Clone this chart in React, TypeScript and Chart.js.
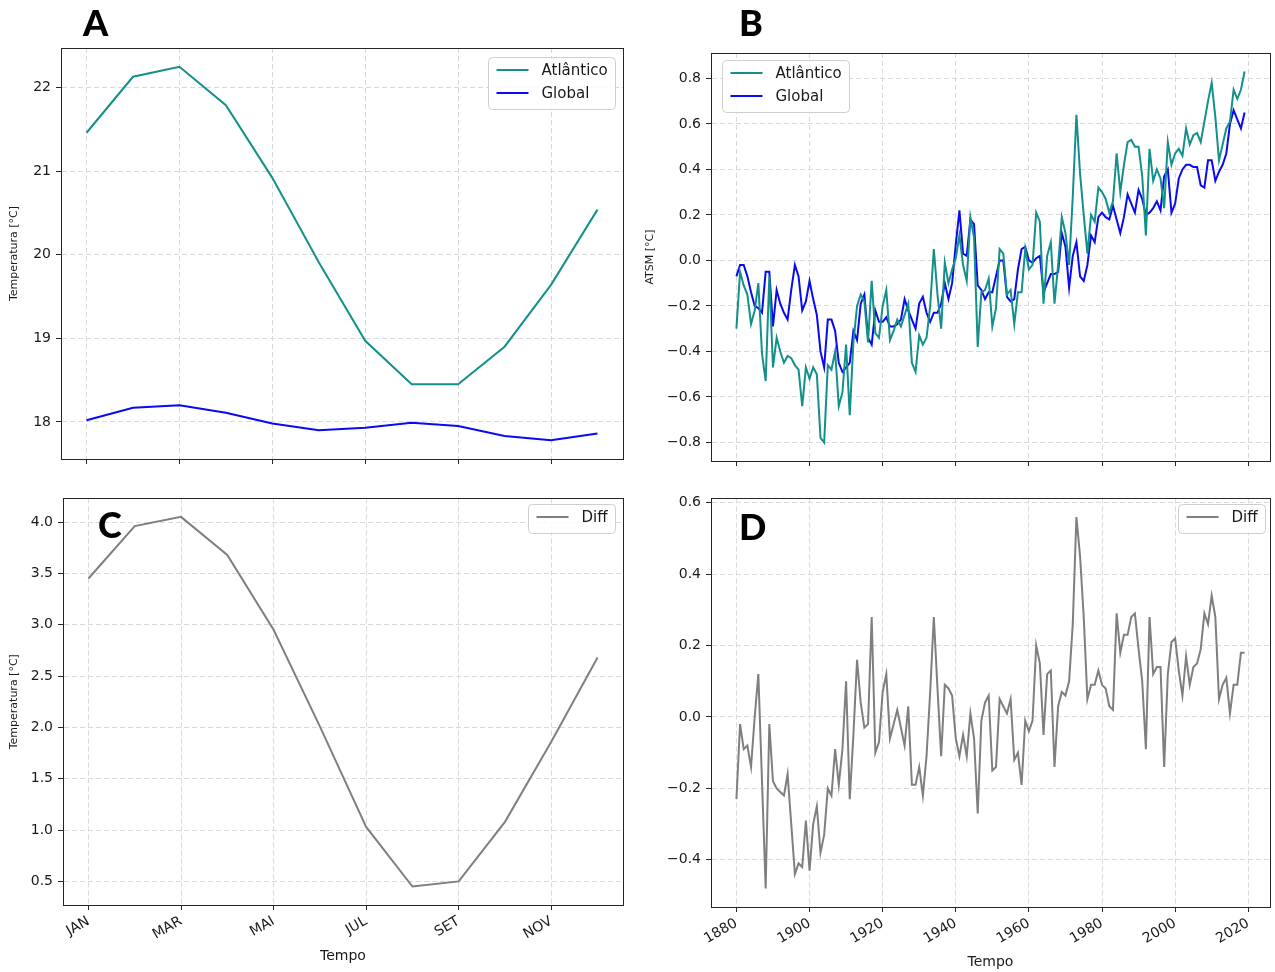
import React, { useEffect, useRef } from 'react';
import { Chart, registerables } from 'chart.js';

Chart.register(...registerables);

const FONT = "'DejaVu Sans', 'Liberation Sans', sans-serif";
const TEXT = '#1a1a1a';
const TEAL = '#13908a';
const BLUE = '#0a0af2';
const GRAY = '#7f7f7f';
const GRID = '#dadada';
const SPINE = '#262626';

// ---- Monthly climatology (panels A and C) ----
const MONTHS = ['JAN', 'FEV', 'MAR', 'ABR', 'MAI', 'JUN', 'JUL', 'AGO', 'SET', 'OUT', 'NOV', 'DEZ'];
const MONTH_TICKS = [0, 2, 4, 6, 8, 10];
const ATL_MONTHLY = [21.46, 22.13, 22.25, 21.79, 20.92, 19.91, 18.97, 18.45, 18.45, 18.90, 19.64, 20.54];
const GLOBAL_MONTHLY = [18.02, 18.17, 18.20, 18.11, 17.98, 17.90, 17.93, 17.99, 17.95, 17.83, 17.78, 17.86];
const DIFF_MONTHLY = [3.45, 3.96, 4.05, 3.68, 2.95, 2.01, 1.03, 0.45, 0.50, 1.08, 1.86, 2.68];
const TEMP_TICKS = [18, 19, 20, 21, 22];
const DIFF_MONTHLY_TICKS = [0.5, 1.0, 1.5, 2.0, 2.5, 3.0, 3.5, 4.0];

// ---- Annual anomalies (panels B and D), first year 1880 ----
const START_YEAR = 1880;
const ATL_ANNUAL = [
  -0.30, -0.05, -0.11, -0.15, -0.28, -0.22, -0.10, -0.41, -0.53, -0.07,
  -0.47, -0.34, -0.40, -0.45, -0.42, -0.43, -0.46, -0.48, -0.64, -0.47,
  -0.52, -0.47, -0.50, -0.78, -0.80, -0.46, -0.48, -0.40, -0.64, -0.58,
  -0.37, -0.68, -0.36, -0.20, -0.15, -0.18, -0.36, -0.09, -0.32, -0.34,
  -0.20, -0.13, -0.35, -0.31, -0.26, -0.29, -0.24, -0.19, -0.45, -0.49,
  -0.33, -0.37, -0.34, -0.20, 0.05, -0.15, -0.30, -0.01, -0.10, -0.04,
  0.01, 0.11, -0.02, -0.09, 0.19, 0.10, -0.38, -0.14, -0.13, -0.08,
  -0.29, -0.21, 0.05, 0.03, -0.15, -0.13, -0.28, -0.14, -0.14, 0.05,
  -0.04, -0.02, 0.21, 0.17, -0.19, 0.02, 0.08, -0.19, -0.02, 0.19,
  0.12, -0.02, 0.28, 0.64, 0.38, 0.20, 0.03, 0.20, 0.17, 0.32,
  0.30, 0.27, 0.21, 0.26, 0.47, 0.30, 0.42, 0.52, 0.53, 0.50,
  0.50, 0.37, 0.11, 0.49, 0.35, 0.40, 0.36, 0.23, 0.52, 0.42,
  0.47, 0.49, 0.46, 0.58, 0.51, 0.55, 0.56, 0.52, 0.61, 0.70,
  0.78, 0.63, 0.44, 0.51, 0.58, 0.61, 0.75, 0.71, 0.75, 0.83,
];
const GLOBAL_ANNUAL = [
  -0.07, -0.02, -0.02, -0.07, -0.14, -0.20, -0.21, -0.23, -0.05, -0.05,
  -0.29, -0.13, -0.19, -0.23, -0.26, -0.13, -0.02, -0.07, -0.22, -0.18,
  -0.09, -0.17, -0.24, -0.40, -0.47, -0.26, -0.26, -0.31, -0.45, -0.49,
  -0.47, -0.45, -0.31, -0.35, -0.19, -0.15, -0.34, -0.37, -0.22, -0.27,
  -0.27, -0.25, -0.29, -0.29, -0.28, -0.26, -0.17, -0.22, -0.26, -0.30,
  -0.19, -0.16, -0.23, -0.27, -0.23, -0.23, -0.19, -0.10, -0.17, -0.10,
  0.07, 0.22, 0.03, 0.02, 0.18, 0.16, -0.11, -0.13, -0.17, -0.14,
  -0.14, -0.07, 0.00, 0.00, -0.16, -0.18, -0.17, -0.04, 0.05, 0.06,
  0.00, -0.01, 0.01, 0.02, -0.14, -0.10, -0.06, -0.06, -0.05, 0.12,
  0.06, -0.12, 0.02, 0.08, -0.07, -0.09, -0.02, 0.11, 0.08, 0.19,
  0.21, 0.19, 0.18, 0.24, 0.18, 0.12, 0.19, 0.29, 0.25, 0.21,
  0.31, 0.27, 0.20, 0.21, 0.23, 0.26, 0.22, 0.37, 0.40, 0.21,
  0.25, 0.36, 0.40, 0.42, 0.42, 0.41, 0.41, 0.33, 0.32, 0.44,
  0.44, 0.35, 0.39, 0.42, 0.47, 0.60, 0.66, 0.62, 0.58, 0.65,
];
const DIFF_ANNUAL = [
  -0.23, -0.02, -0.09, -0.08, -0.14, 0.00, 0.12, -0.18, -0.48, -0.02,
  -0.18, -0.20, -0.21, -0.22, -0.16, -0.30, -0.44, -0.41, -0.42, -0.29,
  -0.43, -0.30, -0.25, -0.38, -0.33, -0.20, -0.22, -0.09, -0.19, -0.09,
  0.10, -0.23, -0.05, 0.16, 0.04, -0.03, -0.02, 0.28, -0.10, -0.07,
  0.07, 0.12, -0.06, -0.02, 0.02, -0.03, -0.08, 0.03, -0.19, -0.19,
  -0.14, -0.22, -0.11, 0.07, 0.28, 0.08, -0.11, 0.09, 0.08, 0.06,
  -0.06, -0.11, -0.05, -0.11, 0.01, -0.06, -0.27, -0.01, 0.04, 0.06,
  -0.15, -0.14, 0.05, 0.03, 0.01, 0.05, -0.12, -0.10, -0.19, -0.01,
  -0.04, -0.01, 0.20, 0.15, -0.05, 0.12, 0.13, -0.14, 0.03, 0.07,
  0.06, 0.10, 0.26, 0.56, 0.45, 0.28, 0.05, 0.09, 0.09, 0.13,
  0.09, 0.08, 0.03, 0.02, 0.29, 0.18, 0.23, 0.23, 0.28, 0.29,
  0.19, 0.10, -0.09, 0.28, 0.12, 0.14, 0.14, -0.14, 0.12, 0.21,
  0.22, 0.13, 0.06, 0.17, 0.09, 0.14, 0.15, 0.19, 0.29, 0.26,
  0.34, 0.28, 0.05, 0.09, 0.11, 0.01, 0.09, 0.09, 0.18, 0.18,
];
const YEAR_TICKS = [1880, 1900, 1920, 1940, 1960, 1980, 2000, 2020];
const ATSM_TICKS = [-0.8, -0.6, -0.4, -0.2, 0.0, 0.2, 0.4, 0.6, 0.8];
const DIFF_ANNUAL_TICKS = [-0.4, -0.2, 0.0, 0.2, 0.4, 0.6];

const MONTH_RANGE = [-0.55, 11.55];
const YEAR_RANGE = [1873.05, 2025.95];
const TEMP_RANGE = [17.556, 22.474];
const DIFF_MONTHLY_RANGE = [0.27, 4.23];
const ATSM_RANGE = [-0.8815, 0.9115];
const DIFF_ANNUAL_RANGE = [-0.532, 0.612];

const fmt1 = (v: number) => (v < 0 ? '\u2212' : '') + Math.abs(v).toFixed(1);

const alignPx = (p: number) => Math.round(p - 0.5) + 0.5;

const framePlugin = {
  id: 'frame',
  afterDatasetsDraw(chart: any) {
    const { ctx, chartArea: a } = chart;
    ctx.save();
    ctx.strokeStyle = SPINE;
    ctx.lineWidth = 1;
    const l = alignPx(a.left), r = alignPx(a.right), t = alignPx(a.top), b = alignPx(a.bottom);
    ctx.strokeRect(l, t, r - l, b - t);
    ctx.restore();
  },
};

const legendPlugin = {
  id: 'boxLegend',
  afterDatasetsDraw(chart: any, _args: any, opts: any) {
    if (!opts || !opts.corner) return;
    const { ctx, chartArea } = chart;
    const sets = chart.data.datasets;
    ctx.save();
    ctx.font = `15px ${FONT}`;
    const textW = Math.max(...sets.map((d: any) => ctx.measureText(d.label).width));
    const padL = 8, lineLen = 32, gap = 13, padR = 8, rowH = 23;
    const w = Math.round(padL + lineLen + gap + textW + padR);
    const h = sets.length * rowH + 6;
    const x = Math.round(opts.corner === 'right' ? chartArea.right - opts.dx - w : chartArea.left + opts.dx) + 0.5;
    const y = Math.round(chartArea.top + opts.dy) + 0.5;
    const rr = 4;
    ctx.beginPath();
    ctx.moveTo(x + rr, y);
    ctx.lineTo(x + w - rr, y);
    ctx.arcTo(x + w, y, x + w, y + rr, rr);
    ctx.lineTo(x + w, y + h - rr);
    ctx.arcTo(x + w, y + h, x + w - rr, y + h, rr);
    ctx.lineTo(x + rr, y + h);
    ctx.arcTo(x, y + h, x, y + h - rr, rr);
    ctx.lineTo(x, y + rr);
    ctx.arcTo(x, y, x + rr, y, rr);
    ctx.closePath();
    ctx.fillStyle = 'rgba(255,255,255,0.85)';
    ctx.fill();
    ctx.strokeStyle = '#cfcfcf';
    ctx.lineWidth = 1;
    ctx.stroke();
    sets.forEach((d: any, i: number) => {
      const cy = Math.round(y + 12 + i * rowH);
      ctx.beginPath();
      ctx.moveTo(x + padL, cy);
      ctx.lineTo(x + padL + lineLen, cy);
      ctx.strokeStyle = d.borderColor;
      ctx.lineWidth = 2;
      ctx.stroke();
      ctx.fillStyle = TEXT;
      ctx.textBaseline = 'middle';
      ctx.textAlign = 'left';
      ctx.fillText(d.label, x + padL + lineLen + gap, cy + 1);
    });
    ctx.restore();
  },
};

type PanelDef = {
  left: number; top: number; w: number; h: number;
  area: { left: number; top: number; right: number; bottom: number };
  datasets: any[];
  xRange: number[]; xTicks: number[]; xLabels: boolean; xFormat: (v: number) => string;
  yRange: number[]; yTicks: number[]; yFormat: (v: number) => string;
  yTitle?: string; yTitlePad?: number;
  xTitle?: string; xTitlePad?: number;
  legend: any;
};

const line = (label: string, color: string, pts: any[]) => ({
  label,
  data: pts,
  borderColor: color,
  backgroundColor: color,
  borderWidth: 2,
  pointRadius: 0,
  tension: 0,
  fill: false,
});

const monthly = (arr: number[]) => arr.map((v, i) => ({ x: i, y: v }));
const annual = (arr: number[]) => arr.map((v, i) => ({ x: START_YEAR + i, y: v }));

const PANELS: PanelDef[] = [
  {
    left: 0, top: 0, w: 640, h: 485,
    area: { left: 61, top: 48, right: 623, bottom: 459 },
    datasets: [line('Atlântico', TEAL, monthly(ATL_MONTHLY)), line('Global', BLUE, monthly(GLOBAL_MONTHLY))],
    xRange: MONTH_RANGE, xTicks: MONTH_TICKS, xLabels: false, xFormat: (v) => MONTHS[v],
    yRange: TEMP_RANGE, yTicks: TEMP_TICKS, yFormat: (v) => String(v),
    yTitle: 'Temperatura [°C]', yTitlePad: 8,
    legend: { corner: 'right', dx: 8, dy: 9 },
  },
  {
    left: 640, top: 0, w: 635, h: 485,
    area: { left: 71, top: 53, right: 630, bottom: 461 },
    datasets: [line('Atlântico', TEAL, annual(ATL_ANNUAL)), line('Global', BLUE, annual(GLOBAL_ANNUAL))],
    xRange: YEAR_RANGE, xTicks: YEAR_TICKS, xLabels: false, xFormat: (v) => String(v),
    yRange: ATSM_RANGE, yTicks: ATSM_TICKS, yFormat: fmt1,
    yTitle: 'ATSM [°C]', yTitlePad: 4,
    legend: { corner: 'left', dx: 11, dy: 7 },
  },
  {
    left: 0, top: 485, w: 640, h: 487,
    area: { left: 63, top: 12, right: 623, bottom: 420 },
    datasets: [line('Diff', GRAY, monthly(DIFF_MONTHLY))],
    xRange: MONTH_RANGE, xTicks: MONTH_TICKS, xLabels: true, xFormat: (v) => MONTHS[v],
    yRange: DIFF_MONTHLY_RANGE, yTicks: DIFF_MONTHLY_TICKS, yFormat: fmt1,
    yTitle: 'Temperatura [°C]', yTitlePad: 8,
    xTitle: 'Tempo', xTitlePad: 7,
    legend: { corner: 'right', dx: 8, dy: 6 },
  },
  {
    left: 640, top: 485, w: 635, h: 487,
    area: { left: 71, top: 12, right: 630, bottom: 422 },
    datasets: [line('Diff', GRAY, annual(DIFF_ANNUAL))],
    xRange: YEAR_RANGE, xTicks: YEAR_TICKS, xLabels: true, xFormat: (v) => String(v),
    yRange: DIFF_ANNUAL_RANGE, yTicks: DIFF_ANNUAL_TICKS, yFormat: fmt1,
    xTitle: 'Tempo', xTitlePad: 1,
    legend: { corner: 'right', dx: 5, dy: 6 },
  },
];

const LETTERS = [
  { text: 'A', left: 83, top: 4 },
  { text: 'B', left: 739, top: 4 },
  { text: 'C', left: 98, top: 506 },
  { text: 'D', left: 739, top: 508 },
];

function makeConfig(p: PanelDef): any {
  const gridOpts = { color: GRID, lineWidth: 1, tickLength: 5, tickColor: SPINE, tickWidth: 1, drawTicks: true };
  const borderOpts = { display: true, color: SPINE, width: 1, dash: [5, 3] };
  return {
    type: 'line',
    data: { datasets: p.datasets },
    plugins: [framePlugin, legendPlugin],
    options: {
      responsive: false,
      animation: false,
      events: [],
      parsing: true,
      layout: { padding: { left: 0, top: p.area.top, right: p.w - p.area.right, bottom: 0 } },
      plugins: {
        legend: { display: false },
        tooltip: { enabled: false },
        title: { display: false },
        boxLegend: p.legend,
      },
      scales: {
        x: {
          type: 'linear',
          position: 'bottom',
          min: p.xRange[0],
          max: p.xRange[1],
          afterBuildTicks: (s: any) => { s.ticks = p.xTicks.map((v) => ({ value: v })); },
          afterFit: (s: any) => { s.height = p.h - p.area.bottom; },
          ticks: {
            display: p.xLabels,
            autoSkip: false,
            maxRotation: 30,
            minRotation: 30,
            padding: 3,
            color: TEXT,
            font: { family: FONT, size: 14 },
            callback: (v: number) => p.xFormat(v),
          },
          grid: gridOpts,
          border: borderOpts,
          title: p.xTitle
            ? { display: true, text: p.xTitle, color: TEXT, font: { family: FONT, size: 14 }, padding: { top: 0, bottom: p.xTitlePad } }
            : { display: false },
        },
        y: {
          type: 'linear',
          position: 'left',
          min: p.yRange[0],
          max: p.yRange[1],
          afterBuildTicks: (s: any) => { s.ticks = p.yTicks.map((v) => ({ value: v })); },
          afterFit: (s: any) => { s.width = p.area.left; },
          ticks: {
            padding: 5,
            color: TEXT,
            font: { family: FONT, size: 14 },
            callback: (v: number) => p.yFormat(v),
          },
          grid: gridOpts,
          border: borderOpts,
          title: p.yTitle
            ? { display: true, text: p.yTitle, color: TEXT, font: { family: FONT, size: 11 }, padding: { top: p.yTitlePad, bottom: 0 } }
            : { display: false },
        },
      },
    },
  };
}

export default function App() {
  const refs = useRef<(HTMLCanvasElement | null)[]>([]);

  useEffect(() => {
    const charts = PANELS.map((p, i) => {
      const c = refs.current[i];
      return c ? new Chart(c, makeConfig(p)) : null;
    });
    return () => { charts.forEach((c) => c && c.destroy()); };
  }, []);

  return (
    <div style={{ position: 'absolute', left: 0, top: 0, width: 1275, height: 972, background: '#ffffff', overflow: 'hidden' }}>
      {PANELS.map((p, i) => (
        <canvas
          key={i}
          ref={(el) => { refs.current[i] = el; }}
          width={p.w}
          height={p.h}
          style={{ position: 'absolute', left: p.left, top: p.top, width: p.w, height: p.h }}
        />
      ))}
      {LETTERS.map((l) => (
        <div
          key={l.text}
          style={{
            position: 'absolute', left: l.left, top: l.top,
            fontFamily: "Lato, 'Noto Sans', 'DejaVu Sans', sans-serif",
            fontWeight: 900, fontSize: 36, lineHeight: 1, color: '#000',
          }}
        >
          {l.text}
        </div>
      ))}
    </div>
  );
}
